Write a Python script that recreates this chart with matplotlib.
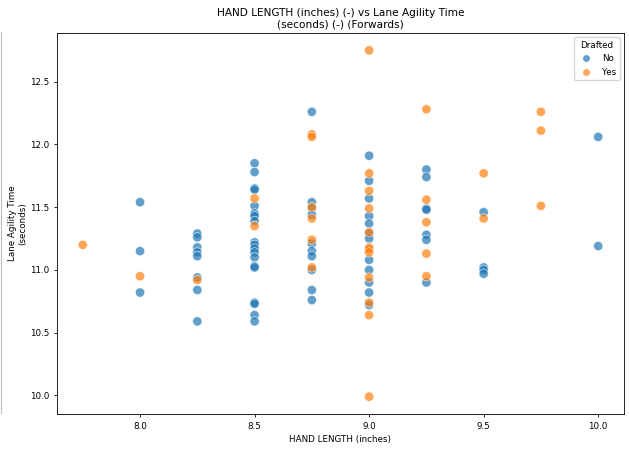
import numpy as np
import pandas as pd
import seaborn as sns
from matplotlib import pyplot as plt
from matplotlib.lines import Line2D

# hand length (inches) -> lane agility times, split by drafted status
no_x = [8.0, 8.0, 8.0,
        8.25, 8.25, 8.25, 8.25, 8.25, 8.25, 8.25, 8.25,
        8.5, 8.5, 8.5, 8.5, 8.5, 8.5, 8.5, 8.5, 8.5, 8.5, 8.5, 8.5, 8.5, 8.5, 8.5, 8.5, 8.5, 8.5, 8.5,
        8.75, 8.75, 8.75, 8.75, 8.75, 8.75, 8.75, 8.75, 8.75, 8.75,
        9.0, 9.0, 9.0, 9.0, 9.0, 9.0, 9.0, 9.0, 9.0, 9.0, 9.0, 9.0,
        9.25, 9.25, 9.25, 9.25, 9.25, 9.25, 9.25,
        9.5, 9.5, 9.5, 9.5,
        10.0, 10.0]
no_y = [11.54, 11.15, 10.82,
        11.29, 11.26, 11.18, 11.14, 11.11, 10.94, 10.84, 10.59,
        11.85, 11.78, 11.65, 11.64, 11.51, 11.45, 11.43, 11.39, 11.22, 11.20, 11.17, 11.14, 11.10,
        11.03, 11.02, 10.74, 10.73, 10.64, 10.59,
        12.26, 11.54, 11.49, 11.44, 11.21, 11.15, 11.11, 11.00, 10.84, 10.76,
        11.91, 11.71, 11.57, 11.43, 11.37, 11.29, 11.25, 11.08, 11.00, 10.90, 10.82, 10.72,
        11.80, 11.74, 11.49, 11.48, 11.28, 11.24, 10.90,
        11.46, 11.02, 11.00, 10.97,
        12.06, 11.19]

yes_x = [7.75, 8.0, 8.25, 8.5, 8.5,
         8.75, 8.75, 8.75, 8.75, 8.75, 8.75,
         9.0, 9.0, 9.0, 9.0, 9.0, 9.0, 9.0, 9.0, 9.0, 9.0, 9.0, 9.0,
         9.25, 9.25, 9.25, 9.25, 9.25,
         9.5, 9.5,
         9.75, 9.75, 9.75]
yes_y = [11.20, 10.95, 10.92, 11.57, 11.35,
         12.08, 12.06, 11.50, 11.41, 11.24, 11.02,
         12.75, 11.77, 11.63, 11.49, 11.30, 11.18, 11.17, 11.14, 10.94, 10.74, 10.64, 9.99,
         12.28, 11.56, 11.38, 11.13, 10.95,
         11.77, 11.41,
         12.26, 12.11, 11.51]

df = pd.DataFrame({
    "HAND LENGTH (inches)": no_x + yes_x,
    "LANE AGILITY TIME (seconds)": no_y + yes_y,
    "Drafted": ["No"] * len(no_x) + ["Yes"] * len(yes_x),
})

plt.rcParams["font.size"] = 6.3
plt.rcParams["axes.linewidth"] = 0.6
plt.rcParams["xtick.major.size"] = 2.2
plt.rcParams["ytick.major.size"] = 2.2
plt.rcParams["xtick.major.width"] = 0.6
plt.rcParams["ytick.major.width"] = 0.6
fig = plt.figure(figsize=(6.29, 4.54), dpi=100)
ax = fig.add_axes([0.0906, 0.0881, 0.9014, 0.8392])

sns.scatterplot(
    data=df,
    x="HAND LENGTH (inches)",
    y="LANE AGILITY TIME (seconds)",
    hue="Drafted",
    hue_order=["No", "Yes"],
    s=45,
    alpha=0.7,
    ax=ax,
)
ax.set_title("HAND LENGTH (inches) (-) vs Lane Agility Time\n(seconds) (-) (Forwards)", fontsize=7.6, pad=4)
ax.set_xlabel("HAND LENGTH (inches)", labelpad=3)
ax.set_ylabel("Lane Agility Time\n(seconds)", labelpad=1.5)
ax.legend(title="Drafted", loc="upper right", fontsize=6.3, title_fontsize=6.3, markerscale=0.8)

# thin grey rule at the left edge
fig.add_artist(Line2D([0.001, 0.001], [0.09, 0.93], color="#bbbbbb", lw=0.8))

fig.savefig("out.png", dpi=100)
